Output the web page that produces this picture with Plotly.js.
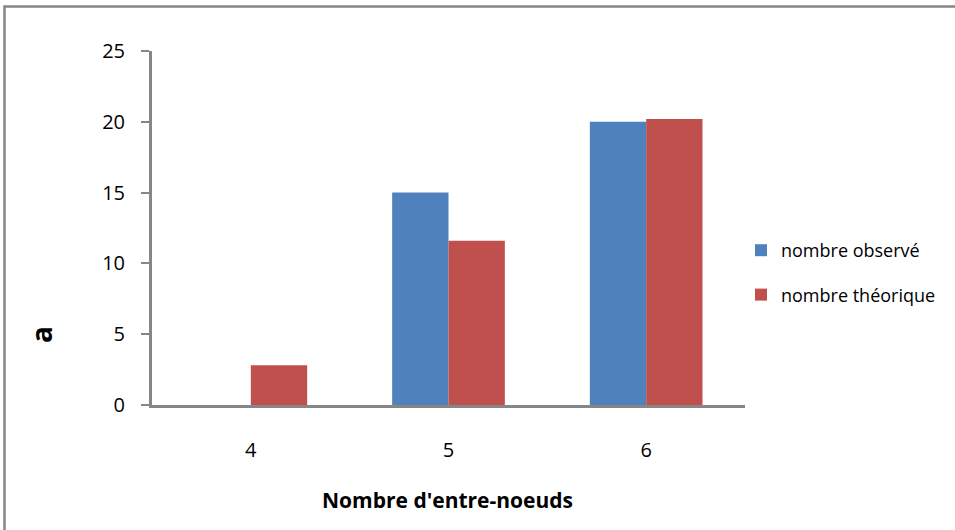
<!DOCTYPE html>
<html>
<head>
<meta charset="utf-8">
<script src="https://cdn.plot.ly/plotly-3.0.1.min.js"></script>
<style>html,body{margin:0;padding:0;background:#fff;}#chart{width:955px;height:530px;}</style>
</head>
<body>
<div id="chart"></div>
<script>
var categories = ['4', '5', '6'];
var observed = [0, 15, 20];
var theoretical = [2.8, 11.6, 20.2];
var seriesNames = ['nombre observé', 'nombre théorique'];
var yTicks = [0, 5, 10, 15, 20, 25];
var xTitle = "Nombre d'entre-noeuds";

var font = 'Open Sans, Liberation Sans, sans-serif';
var axisGray = '#868686';

var traces = [
  {type: 'bar', x: categories, y: observed, name: seriesNames[0], legendgroup: 'a',
   marker: {color: '#4F81BD', line: {width: 0}}},
  {type: 'bar', x: categories, y: theoretical, name: seriesNames[1], legendgroup: 'b',
   marker: {color: '#C0504D', line: {width: 0}}}
];

var L = 152, R = 745, T = 51, B = 405, W = 955, H = 530;
var pw = R - L, ph = B - T;
function px(x) { return (x - L) / pw; }
function py(y) { return (B - y) / ph; }

var layout = {
  width: W, height: H,
  margin: {l: L, r: W - R, t: T, b: H - B, pad: 0},
  paper_bgcolor: '#fff', plot_bgcolor: '#fff',
  barmode: 'group', bargap: 0.43, bargroupgap: 0,
  font: {family: font, size: 20, color: '#000'},
  showlegend: true,
  legend: {x: px(741), y: py(232), xanchor: 'left', yanchor: 'top',
           font: {family: font, size: 18, color: '#000'},
           tracegroupgap: 18, bgcolor: 'rgba(0,0,0,0)'},
  xaxis: {type: 'category', showline: true, linecolor: axisGray, linewidth: 3,
          ticks: '', showgrid: false, zeroline: false, ticklabelstandoff: 25,
          tickfont: {family: font, size: 20, color: '#000'}},
  yaxis: {range: [0, 25], tickvals: yTicks, ticktext: yTicks.map(String),
          showline: true, linecolor: axisGray, linewidth: 3,
          ticks: 'outside', ticklen: 8, tickwidth: 2, tickcolor: axisGray,
          showgrid: false, zeroline: false, ticklabelstandoff: 12,
          tickfont: {family: font, size: 20, color: '#000'}},
  annotations: [
    {xref: 'paper', yref: 'paper', x: px(447), y: py(500), xanchor: 'center', yanchor: 'middle',
     text: '<b>' + xTitle + '</b>', showarrow: false, font: {family: font, size: 21, color: '#000'}},
    {xref: 'paper', yref: 'paper', x: px(41), y: py(335), xanchor: 'center', yanchor: 'middle',
     text: '<b>a</b>', textangle: -90, showarrow: false, font: {family: font, size: 28, color: '#000'}}
  ],
  shapes: [
    {type: 'path', xref: 'paper', yref: 'paper',
     path: 'M ' + px(4.5) + ',' + py(540) + ' L ' + px(4.5) + ',' + py(6.5) + ' L ' + px(960) + ',' + py(6.5),
     line: {color: axisGray, width: 2.5}}
  ]
};

Plotly.newPlot('chart', traces, layout, {displayModeBar: false, staticPlot: true});
</script>
</body>
</html>
